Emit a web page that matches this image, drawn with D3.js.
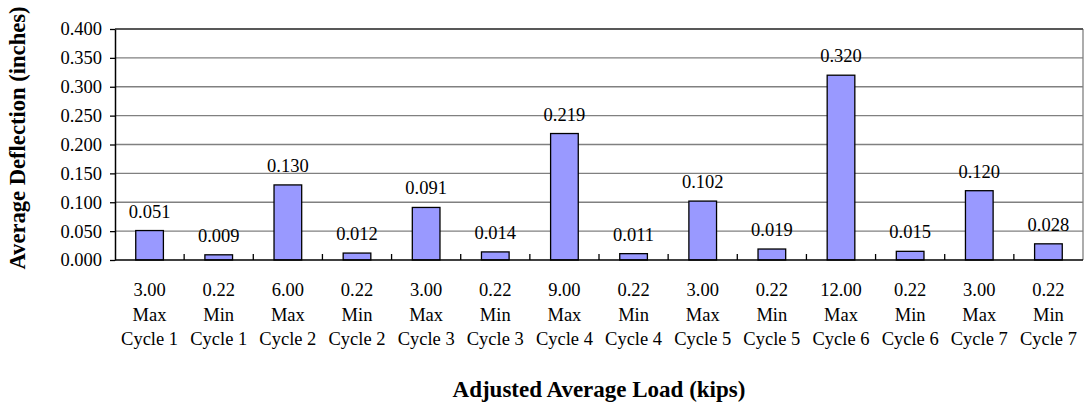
<!DOCTYPE html>
<html>
<head>
<meta charset="utf-8">
<script src="https://cdn.jsdelivr.net/npm/d3@7"></script>
<style>
  html, body { margin: 0; padding: 0; background: #fff; }
  svg { display: block; font-family: "Liberation Serif", "Times New Roman", serif; }
</style>
</head>
<body>
<svg id="chart" width="1085" height="405"></svg>
<script>
// Load steps: load value, max/min, cycle
const loads = ["3.00", "0.22", "6.00", "0.22", "3.00", "0.22", "9.00", "0.22", "3.00", "0.22", "12.00", "0.22", "3.00", "0.22"];
const levels = ["Max", "Min", "Max", "Min", "Max", "Min", "Max", "Min", "Max", "Min", "Max", "Min", "Max", "Min"];
const cycles = ["Cycle 1", "Cycle 1", "Cycle 2", "Cycle 2", "Cycle 3", "Cycle 3", "Cycle 4", "Cycle 4", "Cycle 5", "Cycle 5", "Cycle 6", "Cycle 6", "Cycle 7", "Cycle 7"];
const deflections = [0.051, 0.009, 0.130, 0.012, 0.091, 0.014, 0.219, 0.011, 0.102, 0.019, 0.320, 0.015, 0.120, 0.028];
const yTicks = [0, 0.05, 0.1, 0.15, 0.2, 0.25, 0.3, 0.35, 0.4];

const svg = d3.select("#chart");
const plotL = 115, plotR = 1083, plotT = 29, plotB = 260;
const fs = 18.5;

const idx = d3.range(deflections.length);
const x = d3.scaleBand().domain(idx).range([plotL, plotR]).paddingInner(0.6).paddingOuter(0.3);
const y = d3.scaleLinear().domain([0, 0.4]).range([plotB, plotT]);

// horizontal gridlines
svg.append("g").selectAll("line").data(yTicks.slice(1)).join("line")
  .attr("x1", plotL).attr("x2", plotR)
  .attr("y1", d => y(d)).attr("y2", d => y(d))
  .attr("stroke", "#808080").attr("stroke-width", 1.3);

// plot area border (right and top)
svg.append("line").attr("x1", plotR).attr("x2", plotR).attr("y1", plotT).attr("y2", plotB)
  .attr("stroke", "#808080").attr("stroke-width", 1.3);
svg.append("line").attr("x1", plotL).attr("x2", plotR).attr("y1", plotT).attr("y2", plotT)
  .attr("stroke", "#404040").attr("stroke-width", 1.5);

// bars
svg.append("g").selectAll("rect").data(idx).join("rect")
  .attr("x", i => x(i))
  .attr("y", i => y(deflections[i]))
  .attr("width", x.bandwidth())
  .attr("height", i => y(0) - y(deflections[i]))
  .attr("fill", "#9999FF")
  .attr("stroke", "#000").attr("stroke-width", 1.3);

// value labels
svg.append("g").selectAll("text").data(idx).join("text")
  .attr("x", i => x(i) + x.bandwidth() / 2)
  .attr("y", i => y(deflections[i]) - 13)
  .attr("text-anchor", "middle")
  .attr("font-size", fs)
  .text(i => deflections[i].toFixed(3));

// y axis
const yAxis = d3.axisLeft(y).tickValues(yTicks).tickFormat(d3.format(".3f")).tickSize(5).tickSizeOuter(0);
const gy = svg.append("g").attr("transform", `translate(${plotL},0)`).call(yAxis);
gy.select(".domain").attr("stroke", "#000").attr("stroke-width", 1.5);
gy.selectAll(".tick line").attr("stroke", "#000").attr("stroke-width", 1.3);
gy.selectAll(".tick text").attr("font-size", fs).attr("font-family", "Liberation Serif").attr("fill", "#000").attr("x", -13);

// x axis: category boundaries with inward ticks
const xBound = d3.scaleLinear().domain([0, deflections.length]).range([plotL, plotR]);
svg.append("line").attr("x1", plotL).attr("x2", plotR).attr("y1", plotB).attr("y2", plotB)
  .attr("stroke", "#000").attr("stroke-width", 1.5);
svg.append("g").selectAll("line").data(d3.range(1, deflections.length)).join("line")
  .attr("x1", d => xBound(d)).attr("x2", d => xBound(d))
  .attr("y1", plotB).attr("y2", plotB - 6)
  .attr("stroke", "#000").attr("stroke-width", 1.3);

// category labels (three lines)
const cat = svg.append("g").selectAll("text").data(idx).join("text")
  .attr("text-anchor", "middle")
  .attr("font-size", fs)
  .attr("x", i => x(i) + x.bandwidth() / 2);
cat.append("tspan").attr("x", i => x(i) + x.bandwidth() / 2).attr("y", 296).text(i => loads[i]);
cat.append("tspan").attr("x", i => x(i) + x.bandwidth() / 2).attr("y", 321).text(i => levels[i]);
cat.append("tspan").attr("x", i => x(i) + x.bandwidth() / 2).attr("y", 345).text(i => cycles[i]);

// axis titles
svg.append("text")
  .attr("x", (plotL + plotR) / 2).attr("y", 397)
  .attr("text-anchor", "middle")
  .attr("font-size", 23).attr("font-weight", "bold")
  .text("Adjusted Average Load (kips)");
svg.append("text")
  .attr("transform", "translate(25,138) rotate(-90)")
  .attr("text-anchor", "middle")
  .attr("font-size", 22.6).attr("font-weight", "bold")
  .text("Average Deflection (inches)");
</script>
</body>
</html>
